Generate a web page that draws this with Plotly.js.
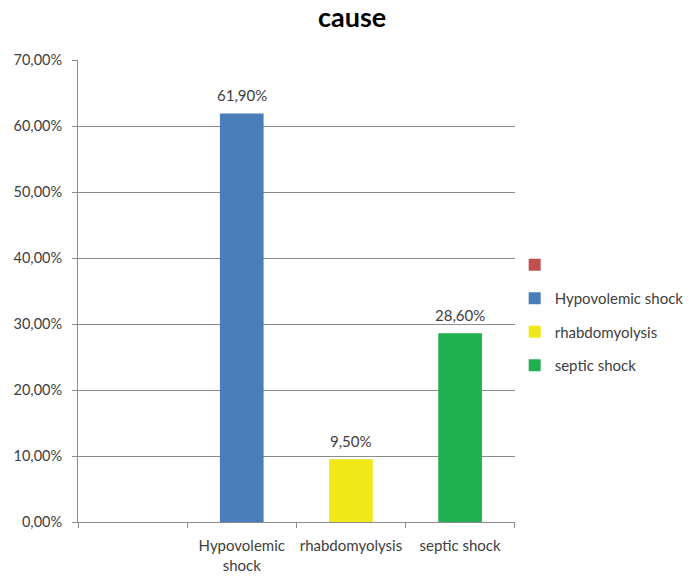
<!DOCTYPE html>
<html>
<head>
<meta charset="utf-8">
<script src="https://cdn.plot.ly/plotly-3.0.1.min.js"></script>
<style>
  html, body { margin: 0; padding: 0; background: #ffffff; }
  #chart { width: 689px; height: 581px; }
</style>
</head>
<body>
<div id="chart"></div>
<script>
// Categories along the x axis (first slot is an unnamed, empty category)
const categories = [" ", "Hypovolemic<br>shock", "rhabdomyolysis", "septic shock"];
// Series names shown in the legend
const seriesNames = ["", "Hypovolemic shock", "rhabdomyolysis", "septic shock"];
// Share of cases for each cause (fraction of 1)
const seriesValues = [null, 0.619, 0.095, 0.286];
const seriesColors = ["#c0504d", "#4a7ebb", "#f1e81a", "#21b04f"];

const FONT = "Lato, sans-serif";

const traces = seriesNames.map((name, i) => ({
  type: "bar",
  name: name,
  legendgroup: "g" + i,
  x: [categories[i]],
  y: [seriesValues[i]],
  marker: { color: seriesColors[i] },
  width: 0.4,
  hoverinfo: "skip"
}));

// Value labels above each bar, formatted with a decimal comma
const fmtPct = v => (v * 100).toFixed(2).replace(".", ",") + "%";
const annotations = seriesValues
  .map((v, i) => v == null ? null : {
    x: categories[i],
    y: v,
    xref: "x",
    yref: "y",
    text: fmtPct(v),
    showarrow: false,
    yanchor: "bottom",
    yshift: 7,
    font: { family: FONT, size: 15, color: "#404040" }
  })
  .filter(a => a);

const layout = {
  width: 689,
  height: 581,
  separators: ",.",
  barmode: "overlay",
  paper_bgcolor: "#ffffff",
  plot_bgcolor: "#ffffff",
  margin: { l: 78, r: 173, t: 60, b: 59 },
  font: { family: FONT, size: 14, color: "#404040" },
  title: {
    text: "<b>cause</b>",
    font: { family: FONT, size: 27, color: "#000000" },
    xref: "container", x: 0.511, xanchor: "center",
    yref: "container", y: 0.97, yanchor: "middle"
  },
  annotations: annotations,
  xaxis: {
    type: "category",
    categoryorder: "array",
    categoryarray: categories,
    tickson: "boundaries",
    tickangle: 0,
    ticks: "outside",
    ticklen: 5,
    tickcolor: "#8c8c8c",
    ticklabelstandoff: 10,
    showline: true,
    linecolor: "#8c8c8c",
    linewidth: 1,
    showgrid: false,
    automargin: false,
    tickfont: { family: FONT, size: 15, color: "#404040" },
    fixedrange: true
  },
  yaxis: {
    range: [0, 0.7],
    dtick: 0.1,
    tickformat: ".2%",
    ticks: "outside",
    ticklen: 5,
    tickcolor: "#8c8c8c",
    ticklabelstandoff: 7,
    showline: true,
    linecolor: "#8c8c8c",
    linewidth: 1,
    showgrid: true,
    gridcolor: "#8c8c8c",
    gridwidth: 1,
    zeroline: false,
    automargin: false,
    tickfont: { family: FONT, size: 14.5, color: "#404040" },
    fixedrange: true
  },
  showlegend: true,
  legend: {
    xref: "container",
    yref: "container",
    x: 0.747, xanchor: "left",
    y: 0.458, yanchor: "middle",
    tracegroupgap: 11,
    font: { family: FONT, size: 15, color: "#404040" },
    itemclick: false,
    itemdoubleclick: false
  }
};

Plotly.newPlot("chart", traces, layout, { displayModeBar: false, staticPlot: true });
</script>
</body>
</html>
